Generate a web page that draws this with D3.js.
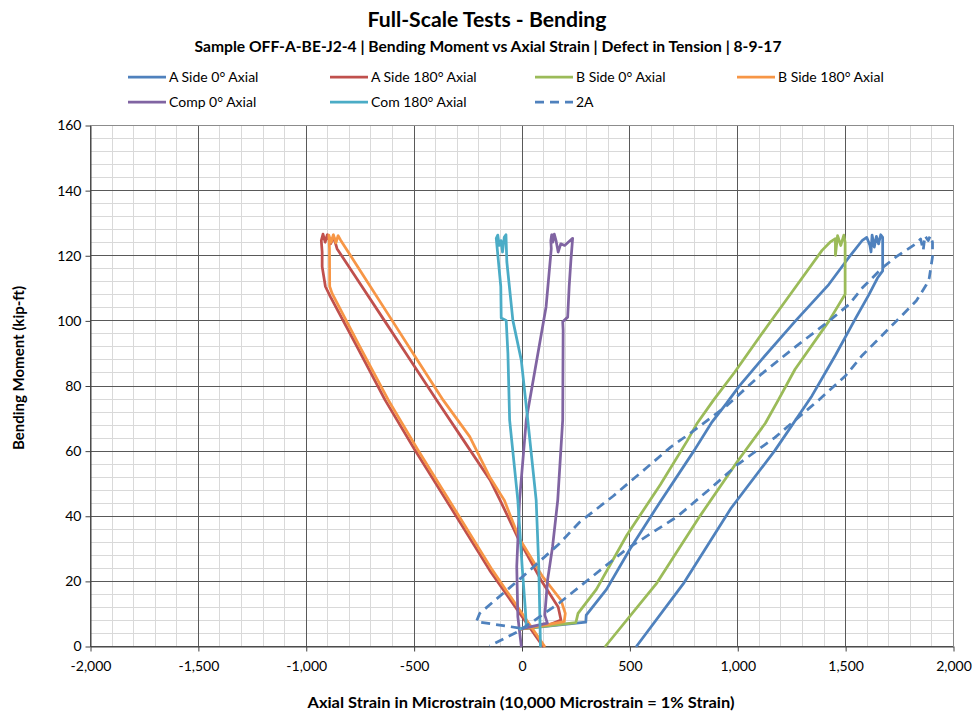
<!DOCTYPE html>
<html>
<head>
<meta charset="utf-8">
<script src="https://cdn.jsdelivr.net/npm/d3@7"></script>
<style>
  body { margin: 0; background: #fff; }
  text { font-family: Lato, "Liberation Sans", sans-serif; fill: #000; }
</style>
</head>
<body>
<div id="chart"></div>
<script>
// series: [axial strain (microstrain), bending moment (kip-ft)]
const seriesNames = ["A Side 0° Axial", "A Side 180° Axial", "B Side 0° Axial", "B Side 180° Axial",
  "Comp 0° Axial", "Com 180° Axial", "2A"];
const seriesColors = ["#4f81bd", "#c0504d", "#9bbb59", "#f79646", "#8064a2", "#4bacc6", "#4f81bd"];

const aSide0 = [[-8,5.2],[298,7.3],[300,9.5],[394,17.4],[503,29.8],[644,44.4],[800,60],[880,68.5],[950,74.5],
  [1010,79.9],[1112,87.9],[1268,99.7],[1424,111],[1518,119.4],[1580,124.6],[1600,125.5],[1615,123],[1620,121],
  [1625,126.2],[1635,122.5],[1645,125.8],[1655,123.5],[1665,126.3],[1674,125.5],[1674,115.2],[1650,113],
  [1611,108],[1549,100.7],[1455,89.3],[1346,76.8],[1174,60],[971,42.3],[753,19.4],[534,0]];

const aSide180 = [[-8,5.2],[129,6.5],[183,8],[170,12],[90,20.3],[-15,33],[-100,44.9],[-146,51],[-270,63.3],
  [-393,75.5],[-536,89.9],[-636,100],[-780,114.5],[-855,122],[-870,125.5],[-885,123.5],[-900,126.3],
  [-910,124],[-920,126.5],[-928,124.5],[-924,121],[-924,116.5],[-909,110.4],[-886,107.3],[-762,91.9],
  [-632,75.5],[-494,60.2],[-301,39.7],[-148,23.3],[98,0]];

const bSide0 = [[-8,5.2],[252,7.2],[262,10],[347,17.4],[488,34],[644,49.6],[768,63],[815,68.5],[890,75.5],
  [987,84],[1143,98.6],[1268,110],[1393,121.5],[1430,124],[1455,125.1],[1455,120],[1465,126],[1480,123],
  [1494,126.2],[1500,124],[1500,108],[1424,99.7],[1268,85],[1190,75.5],[1130,68.4],[1003,56.9],[830,40.2],
  [628,19.4],[390,0]];

const bSide180 = [[-8,5.2],[114,6.5],[198,7.5],[203,10],[183,14.1],[98,21.3],[-10,33],[-80,44.8],[-148,52],
  [-240,64.3],[-363,75.5],[-494,89],[-600,100],[-740,114.5],[-839,124.7],[-850,126],[-860,123.8],
  [-872,126.3],[-882,124],[-893,126.2],[-890,122],[-889,110.4],[-878,108.3],[-750,92],[-617,75.5],
  [-480,60.2],[-288,39.7],[-135,23.3],[106,0]];

const comp0 = [[-8,5.2],[120,7],[108,9.5],[121,20.3],[144,30.5],[168,44.8],[191,69.4],[193,97],[191,99.6],
  [214,101],[221,110.4],[229,118.5],[237,125.2],[200,123],[182,123.5],[170,121],[160,124.5],[152,126.5],
  [145,124],[140,126.3],[136,124.5],[138,122],[114,104.2],[22,69.4],[-9,44.8],[-22,24.4],[-17,9],[-1,0]];

const com180 = [[-8,5.2],[22,6],[18,11],[3,24.4],[-17,44.8],[-55,69.4],[-63,89.9],[-71,100],[-94,100.7],
  [-96,110.4],[-117,125.2],[-110,126.2],[-103,123],[-95,124.5],[-88,121],[-80,125.5],[-72,126.3],[-70,122],
  [-68,118],[-40,100],[-1,87.8],[29,69.4],[68,44.8],[80,24.4],[88,0]];

const twoA = [[-8,5.5],[-209,7.5],[-194,10],[0,21],[175,31.4],[269,38],[424,46],[581,54.8],[690,61],
  [800,66.2],[955,74],[1112,83.5],[1268,91.8],[1424,99.7],[1518,104.9],[1580,110],[1675,116.3],
  [1736,119.5],[1830,123.6],[1850,125],[1862,121.5],[1870,126],[1885,124.5],[1895,126],[1905,124],
  [1905,119.5],[1890,113],[1877,111],[1830,106],[1736,99.7],[1580,89.3],[1502,83],[1377,75.5],
  [1174,64],[1003,55.8],[878,48.5],[721,39.7],[488,29.8],[331,21.5],[175,13.2],[-9,4.7],[-148,0]];

const seriesData = [aSide0, aSide180, bSide0, bSide180, comp0, com180, twoA];

const xTicks = [-2000, -1500, -1000, -500, 0, 500, 1000, 1500, 2000];
const yTicks = [0, 20, 40, 60, 80, 100, 120, 140, 160];

const width = 975, height = 715;

const svg = d3.select("#chart")
  .append("svg")
  .attr("width", width)
  .attr("height", height);

const x = d3.scaleLinear().domain([-2000, 2000]).range([90, 953]);
const y = d3.scaleLinear().domain([0, 160]).range([646, 125]);

const px = v => Math.round(x(v)) + 0.5;
const py = v => Math.round(y(v)) + 0.5;

// minor grid
const grid = svg.append("g");
grid.selectAll(".minor-x")
  .data(d3.range(-2000, 2001, 100).filter(v => v % 500 !== 0))
  .enter().append("line")
  .attr("x1", px).attr("x2", px)
  .attr("y1", y(0)).attr("y2", y(160))
  .attr("stroke", "#d9d9d9");
grid.selectAll(".minor-y")
  .data(d3.range(0, 161, 4).filter(v => v % 20 !== 0))
  .enter().append("line")
  .attr("y1", py).attr("y2", py)
  .attr("x1", x(-2000)).attr("x2", x(2000))
  .attr("stroke", "#d9d9d9");

// major grid
grid.selectAll(".major-x")
  .data(xTicks)
  .enter().append("line")
  .attr("x1", px).attr("x2", px)
  .attr("y1", y(0)).attr("y2", y(160))
  .attr("stroke", d => d === 2000 ? "#8c8c8c" : "#595959");
grid.selectAll(".major-y")
  .data(yTicks)
  .enter().append("line")
  .attr("y1", py).attr("y2", py)
  .attr("x1", x(-2000)).attr("x2", x(2000))
  .attr("stroke", d => d === 160 ? "#8c8c8c" : "#595959");

// axes (hyphen minus like the original)
const fmt = d => d3.format(",")(d).replace("−", "-");

const xAxis = svg.append("g")
  .attr("transform", `translate(0.5,${py(0)})`)
  .call(d3.axisBottom(x).tickValues(xTicks).tickFormat(fmt).tickSizeInner(5).tickSizeOuter(0).tickPadding(10));
const yAxis = svg.append("g")
  .attr("transform", `translate(${px(-2000)},0.5)`)
  .call(d3.axisLeft(y).tickValues(yTicks).tickSizeInner(5).tickSizeOuter(0).tickPadding(4));

[xAxis, yAxis].forEach(g => {
  g.select(".domain").attr("stroke", "#404040");
  g.selectAll(".tick line").attr("stroke", "#404040");
  g.selectAll(".tick text")
    .style("font-family", "Lato, 'Liberation Sans', sans-serif")
    .style("font-size", "14px")
    .attr("fill", "#000");
});

// series lines
const line = d3.line()
  .x(d => x(d[0]))
  .y(d => y(d[1]));

svg.append("g")
  .selectAll("path")
  .data(seriesData)
  .enter()
  .append("path")
  .attr("d", line)
  .attr("fill", "none")
  .attr("stroke", (d, i) => seriesColors[i])
  .attr("stroke-width", 2.75)
  .attr("stroke-linejoin", "round")
  .attr("stroke-linecap", (d, i) => i === 6 ? "butt" : "round")
  .attr("stroke-dasharray", (d, i) => i === 6 ? "9,6" : null);

// titles
svg.append("text")
  .attr("x", 487).attr("y", 27)
  .attr("text-anchor", "middle")
  .attr("textLength", 239).attr("lengthAdjust", "spacingAndGlyphs")
  .style("font-size", "21.5px").style("font-weight", "bold")
  .text("Full-Scale Tests - Bending");

svg.append("text")
  .attr("x", 488).attr("y", 52)
  .attr("text-anchor", "middle")
  .attr("textLength", 587).attr("lengthAdjust", "spacingAndGlyphs")
  .style("font-size", "15px").style("font-weight", "bold")
  .text("Sample OFF-A-BE-J2-4 | Bending Moment vs Axial Strain | Defect in Tension | 8-9-17");

svg.append("text")
  .attr("x", 521).attr("y", 708)
  .attr("text-anchor", "middle")
  .attr("textLength", 427).attr("lengthAdjust", "spacingAndGlyphs")
  .style("font-size", "15px").style("font-weight", "bold")
  .text("Axial Strain in Microstrain (10,000 Microstrain = 1% Strain)");

svg.append("text")
  .attr("transform", "translate(24,368) rotate(-90)")
  .attr("text-anchor", "middle")
  .style("font-size", "15px").style("font-weight", "bold")
  .text("Bending Moment (kip-ft)");

// legend
const legendX = [128, 330, 535, 737, 128, 330, 535];
const legendY = [77, 77, 77, 77, 102, 102, 102];

const legend = svg.append("g")
  .selectAll("g")
  .data(seriesNames)
  .enter()
  .append("g")
  .attr("transform", (d, i) => `translate(${legendX[i]},${legendY[i]})`);

legend.append("line")
  .attr("x1", 0).attr("x2", 38)
  .attr("stroke", (d, i) => seriesColors[i])
  .attr("stroke-width", 2.75)
  .attr("stroke-dasharray", (d, i) => i === 6 ? "9,6" : null);

legend.append("text")
  .attr("x", 41).attr("y", 5)
  .style("font-size", "14px")
  .text(d => d);
</script>
</body>
</html>
